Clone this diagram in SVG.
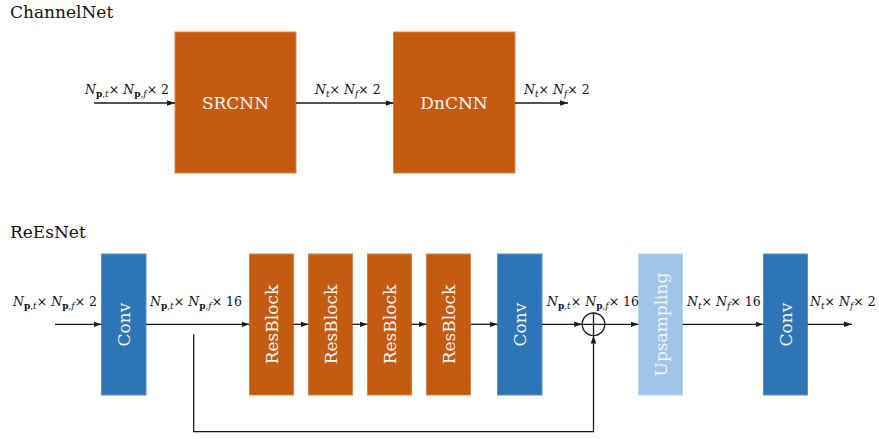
<svg xmlns="http://www.w3.org/2000/svg" width="879" height="439" viewBox="0 0 879 439">
<defs>
<style>
text{font-family:'DejaVu Serif',serif}
.title{font-size:17px;fill:#111}
.boxt{font-size:17px;fill:#f4f4f4;text-anchor:middle;dominant-baseline:central}
.lbl{font-size:12.5px;fill:#111}
.i{font-style:italic}
.s{font-size:9px}
.b{font-weight:bold}
.orange{fill:#c55a11;stroke:#d9824a;stroke-width:1}
.blue{fill:#2e75b6;stroke:#5a93c8;stroke-width:1}
.lblue{fill:#9fc5e8;stroke:#b8d5ef;stroke-width:1}
.ln{fill:none;stroke:#1a1a1a;stroke-width:1.3}
</style>
<marker id="ah" viewBox="0 0 10 10" refX="10" refY="5" markerWidth="8" markerHeight="8" markerUnits="userSpaceOnUse" orient="auto">
<path d="M0,1.5 L10,5 L0,8.5 z" fill="#1a1a1a"/>
</marker>
</defs>

<text class="title" x="10" y="18">ChannelNet</text>
<text class="title" x="10" y="238">ReEsNet</text>

<!-- ChannelNet -->
<g id="srcnn"><rect class="orange" x="175" y="32" width="121" height="141"/><text class="boxt" x="235.5" y="102.5">SRCNN</text></g>
<g id="dncnn"><rect class="orange" x="393.5" y="32" width="121.5" height="141"/><text class="boxt" x="454" y="102.5">DnCNN</text></g>

<!-- ReEsNet -->
<g id="conv1"><rect class="blue" x="101.5" y="254" width="44.5" height="141"/><text class="boxt" transform="rotate(-90 123.7 324.5)" x="123.7" y="324.5">Conv</text></g>
<g id="res1"><rect class="orange" x="249.5" y="254" width="44" height="141"/><text class="boxt" transform="rotate(-90 271.5 324.5)" x="271.5" y="324.5">ResBlock</text></g>
<g id="res2"><rect class="orange" x="308.5" y="254" width="44" height="141"/><text class="boxt" transform="rotate(-90 330.5 324.5)" x="330.5" y="324.5">ResBlock</text></g>
<g id="res3"><rect class="orange" x="367.5" y="254" width="44" height="141"/><text class="boxt" transform="rotate(-90 389.5 324.5)" x="389.5" y="324.5">ResBlock</text></g>
<g id="res4"><rect class="orange" x="426.5" y="254" width="44" height="141"/><text class="boxt" transform="rotate(-90 448.5 324.5)" x="448.5" y="324.5">ResBlock</text></g>
<g id="conv2"><rect class="blue" x="497.5" y="254" width="44.5" height="141"/><text class="boxt" transform="rotate(-90 519.7 324.5)" x="519.7" y="324.5">Conv</text></g>
<g id="sum"><circle class="ln" cx="593.5" cy="324.3" r="11.3"/><path class="ln" d="M582.2,324.3 H604.8 M593.5,313 V335.6"/></g>
<g id="upsampling"><rect class="lblue" x="638.5" y="254" width="44" height="141"/><text class="boxt" transform="rotate(-90 660.5 324.5)" x="660.5" y="324.5">Upsampling</text></g>
<g id="conv3"><rect class="blue" x="763.5" y="254" width="44" height="141"/><text class="boxt" transform="rotate(-90 785.5 324.5)" x="785.5" y="324.5">Conv</text></g>

<g id="connectors">
<path class="ln" d="M94,103 H175" marker-end="url(#ah)"/>
<path class="ln" d="M296,103 H393.5" marker-end="url(#ah)"/>
<path class="ln" d="M515,103 H568" marker-end="url(#ah)"/>

<path class="ln" d="M55,324.3 H101.5" marker-end="url(#ah)"/>
<path class="ln" d="M146,324.3 H249.5" marker-end="url(#ah)"/>
<path class="ln" d="M293.5,324.3 H308.5" marker-end="url(#ah)"/>
<path class="ln" d="M352.5,324.3 H367.5" marker-end="url(#ah)"/>
<path class="ln" d="M411.5,324.3 H426.5" marker-end="url(#ah)"/>
<path class="ln" d="M470.5,324.3 H497.5" marker-end="url(#ah)"/>
<path class="ln" d="M542,324.3 H582.2" marker-end="url(#ah)"/>
<path class="ln" d="M604.8,324.3 H638.5" marker-end="url(#ah)"/>
<path class="ln" d="M682.5,324.3 H763.5" marker-end="url(#ah)"/>
<path class="ln" d="M807.5,324.3 H852" marker-end="url(#ah)"/>
<path class="ln" d="M193.7,334.3 V431.7 H593.5 V335.6" marker-end="url(#ah)"/>
</g>

<g id="labels">
<text class="lbl" x="85" y="94"><tspan class="i">N</tspan><tspan class="s b" dy="3">p</tspan><tspan class="s">,</tspan><tspan class="s i">t</tspan><tspan dy="-3">× </tspan><tspan class="i">N</tspan><tspan class="s b" dy="3">p</tspan><tspan class="s">,</tspan><tspan class="s i">f</tspan><tspan dy="-3">× 2</tspan></text>
<text class="lbl" x="315" y="94"><tspan class="i">N</tspan><tspan class="s i" dy="3">t</tspan><tspan dy="-3">× </tspan><tspan class="i">N</tspan><tspan class="s i" dy="3">f</tspan><tspan dy="-3">× 2</tspan></text>
<text class="lbl" x="524" y="94"><tspan class="i">N</tspan><tspan class="s i" dy="3">t</tspan><tspan dy="-3">× </tspan><tspan class="i">N</tspan><tspan class="s i" dy="3">f</tspan><tspan dy="-3">× 2</tspan></text>

<text class="lbl" x="13" y="306"><tspan class="i">N</tspan><tspan class="s b" dy="3">p</tspan><tspan class="s">,</tspan><tspan class="s i">t</tspan><tspan dy="-3">× </tspan><tspan class="i">N</tspan><tspan class="s b" dy="3">p</tspan><tspan class="s">,</tspan><tspan class="s i">f</tspan><tspan dy="-3">× 2</tspan></text>
<text class="lbl" x="150" y="306"><tspan class="i">N</tspan><tspan class="s b" dy="3">p</tspan><tspan class="s">,</tspan><tspan class="s i">t</tspan><tspan dy="-3">× </tspan><tspan class="i">N</tspan><tspan class="s b" dy="3">p</tspan><tspan class="s">,</tspan><tspan class="s i">f</tspan><tspan dy="-3">× 16</tspan></text>
<text class="lbl" x="547" y="306"><tspan class="i">N</tspan><tspan class="s b" dy="3">p</tspan><tspan class="s">,</tspan><tspan class="s i">t</tspan><tspan dy="-3">× </tspan><tspan class="i">N</tspan><tspan class="s b" dy="3">p</tspan><tspan class="s">,</tspan><tspan class="s i">f</tspan><tspan dy="-3">× 16</tspan></text>
<text class="lbl" x="687" y="306"><tspan class="i">N</tspan><tspan class="s i" dy="3">t</tspan><tspan dy="-3">× </tspan><tspan class="i">N</tspan><tspan class="s i" dy="3">f</tspan><tspan dy="-3">× 16</tspan></text>
<text class="lbl" x="810" y="306"><tspan class="i">N</tspan><tspan class="s i" dy="3">t</tspan><tspan dy="-3">× </tspan><tspan class="i">N</tspan><tspan class="s i" dy="3">f</tspan><tspan dy="-3">× 2</tspan></text>
</g>
</svg>
